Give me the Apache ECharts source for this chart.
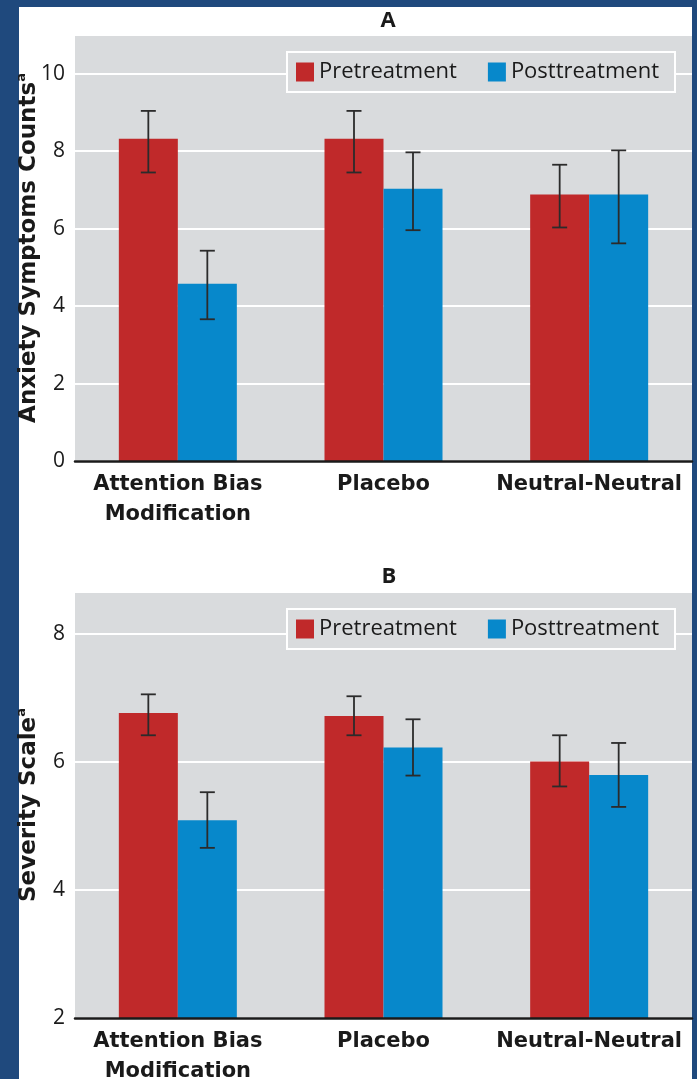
<!DOCTYPE html>
<html>
<head>
<meta charset="utf-8">
<style>
  html, body { margin: 0; padding: 0; background: #1f497d; }
  #chart { width: 697px; height: 1079px; }
</style>
<script src="https://cdn.jsdelivr.net/npm/echarts@6/dist/echarts.min.js"></script>
</head>
<body>
<div id="chart"></div>
<script>
// ---- data ----
const categories = ['Attention Bias\nModification', 'Placebo', 'Neutral-Neutral'];
const seriesNames = ['Pretreatment', 'Posttreatment'];

// Panel A: Anxiety Symptoms Counts
const anxietyPre = [8.32, 8.32, 6.88];
const anxietyPreLow = [7.45, 7.45, 6.03];
const anxietyPreHigh = [9.04, 9.04, 7.65];
const anxietyPost = [4.58, 7.03, 6.88];
const anxietyPostLow = [3.66, 5.96, 5.62];
const anxietyPostHigh = [5.43, 7.97, 8.02];

// Panel B: Severity Scale
const severityPre = [6.77, 6.72, 6.01];
const severityPreLow = [6.42, 6.42, 5.62];
const severityPreHigh = [7.06, 7.03, 6.42];
const severityPost = [5.09, 6.23, 5.80];
const severityPostLow = [4.66, 5.79, 5.30];
const severityPostHigh = [5.53, 6.67, 6.30];

const yTicksA = { min: 0, max: 11, interval: 2 };
const yTicksB = { min: 2, max: 8.66, interval: 2 };

// ---- style ----
const FONT = 'Open Sans';
const BOLDFONT = 'DejaVu Sans';
const RED = '#c0292a';
const BLUE = '#0788cb';
const PLOT_BG = '#d9dbdd';
const TEXT = '#1a1a1a';
const BAR_W = 59;

const chart = echarts.init(document.getElementById('chart'), null, { renderer: 'canvas' });

function errData(low, high) {
  return categories.map((c, i) => [i, low[i], high[i]]);
}
function errRender(offset) {
  return function (params, api) {
    const lo = api.coord([api.value(0), api.value(1)]);
    const hi = api.coord([api.value(0), api.value(2)]);
    const x = lo[0] + offset;
    const cap = 7.5;
    const style = { stroke: '#2b2b2b', lineWidth: 1.8 };
    return {
      type: 'group',
      children: [
        { type: 'line', shape: { x1: x, y1: lo[1], x2: x, y2: hi[1] }, style },
        { type: 'line', shape: { x1: x - cap, y1: lo[1], x2: x + cap, y2: lo[1] }, style },
        { type: 'line', shape: { x1: x - cap, y1: hi[1], x2: x + cap, y2: hi[1] }, style }
      ]
    };
  };
}

function xAxis(gridIndex) {
  return {
    type: 'category', gridIndex, data: categories,
    axisTick: { show: false },
    axisLine: { lineStyle: { color: TEXT, width: 2.5 } },
    axisLabel: {
      interval: 0, color: TEXT, fontFamily: BOLDFONT, fontWeight: 'bold', fontSize: 21,
      lineHeight: 30, margin: 9
    },
    splitLine: { show: false }, z: 5
  };
}
function yAxis(gridIndex, ticks, name) {
  return {
    type: 'value', gridIndex, min: ticks.min, max: ticks.max, interval: ticks.interval,
    name: name, nameLocation: 'middle', nameGap: 32, nameRotate: 90, nameMoveOverlap: false,
    nameTextStyle: {
      rich: {
        t: { fontFamily: BOLDFONT, fontWeight: 'bold', fontSize: 23, color: TEXT, lineHeight: 28 },
        s: { fontFamily: BOLDFONT, fontWeight: 'bold', fontSize: 13, color: TEXT, verticalAlign: 'top', lineHeight: 28 }
      }
    },
    axisLine: { show: false }, axisTick: { show: false },
    axisLabel: { color: TEXT, fontFamily: FONT, fontSize: 21, margin: 10, showMaxLabel: false },
    splitLine: { lineStyle: { color: '#ffffff', width: 2 } }
  };
}
function legend(top) {
  return {
    data: seriesNames, left: 287, top: top, orient: 'horizontal',
    icon: 'rect', itemWidth: 18, itemHeight: 19, itemGap: 31,
    backgroundColor: PLOT_BG, borderColor: '#ffffff', borderWidth: 2,
    padding: [9, 16, 9, 9],
    textStyle: { fontFamily: FONT, fontSize: 22, color: TEXT },
    z: 10
  };
}

const option = {
  backgroundColor: '#1f497d',
  animation: false,
  graphic: [
    { type: 'rect', shape: { x: 19, y: 7, width: 673, height: 1080 }, style: { fill: '#ffffff' }, z: -10 }
  ],
  title: [
    { text: 'A', left: 383, top: 5, textAlign: 'center',
      textStyle: { fontFamily: FONT, fontSize: 22, fontWeight: 'bold', color: TEXT } },
    { text: 'B', left: 384, top: 561, textAlign: 'center',
      textStyle: { fontFamily: FONT, fontSize: 22, fontWeight: 'bold', color: TEXT } }
  ],
  legend: [legend(52), legend(609)],
  grid: [
    { left: 75, top: 35, width: 617, height: 426, show: true, backgroundColor: PLOT_BG, borderWidth: 0,
      containLabel: false, outerBoundsMode: 'none' },
    { left: 75, top: 592, width: 617, height: 426, show: true, backgroundColor: PLOT_BG, borderWidth: 0,
      containLabel: false, outerBoundsMode: 'none' }
  ],
  xAxis: [xAxis(0), xAxis(1)],
  yAxis: [
    yAxis(0, yTicksA, '{t|Anxiety Symptoms Counts}{s|a}'),
    yAxis(1, yTicksB, '{t|Severity Scale}{s|a}')
  ],
  series: [
    { name: seriesNames[0], type: 'bar', xAxisIndex: 0, yAxisIndex: 0, data: anxietyPre,
      barWidth: BAR_W, barGap: '0%', itemStyle: { color: RED } },
    { name: seriesNames[1], type: 'bar', xAxisIndex: 0, yAxisIndex: 0, data: anxietyPost,
      barWidth: BAR_W, barGap: '0%', itemStyle: { color: BLUE } },
    { name: seriesNames[0], type: 'bar', xAxisIndex: 1, yAxisIndex: 1, data: severityPre,
      barWidth: BAR_W, barGap: '0%', itemStyle: { color: RED } },
    { name: seriesNames[1], type: 'bar', xAxisIndex: 1, yAxisIndex: 1, data: severityPost,
      barWidth: BAR_W, barGap: '0%', itemStyle: { color: BLUE } },
    { type: 'custom', xAxisIndex: 0, yAxisIndex: 0, data: errData(anxietyPreLow, anxietyPreHigh),
      renderItem: errRender(-BAR_W / 2), z: 4, silent: true },
    { type: 'custom', xAxisIndex: 0, yAxisIndex: 0, data: errData(anxietyPostLow, anxietyPostHigh),
      renderItem: errRender(BAR_W / 2), z: 4, silent: true },
    { type: 'custom', xAxisIndex: 1, yAxisIndex: 1, data: errData(severityPreLow, severityPreHigh),
      renderItem: errRender(-BAR_W / 2), z: 4, silent: true },
    { type: 'custom', xAxisIndex: 1, yAxisIndex: 1, data: errData(severityPostLow, severityPostHigh),
      renderItem: errRender(BAR_W / 2), z: 4, silent: true }
  ]
};
chart.setOption(option);
</script>
</body>
</html>
